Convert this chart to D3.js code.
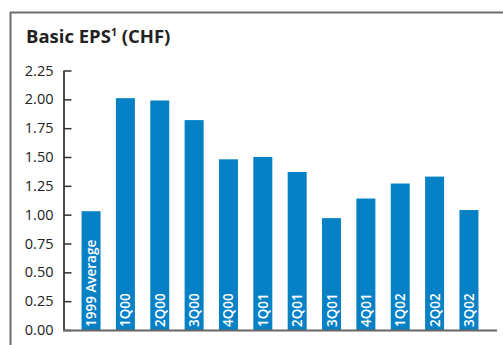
<!DOCTYPE html>
<html>
<head>
<meta charset="utf-8">
<script src="https://cdn.jsdelivr.net/npm/d3@7"></script>
<style>
  html, body { margin: 0; padding: 0; background: #fff; }
  svg { display: block; }
</style>
</head>
<body>
<svg id="chart" width="503" height="345"></svg>
<script>
// Basic earnings per share, CHF
const categories = ["1999 Average", "1Q00", "2Q00", "3Q00", "4Q00", "1Q01", "2Q01", "3Q01", "4Q01", "1Q02", "2Q02", "3Q02"];
const eps = [1.03, 2.01, 1.99, 1.82, 1.48, 1.50, 1.37, 0.97, 1.14, 1.27, 1.33, 1.04];
const yTicks = [0, 0.25, 0.5, 0.75, 1.0, 1.25, 1.5, 1.75, 2.0, 2.25];

const svg = d3.select("#chart");
const font = "'Open Sans', 'Noto Sans', sans-serif";

// panel frame: top and left rules
svg.append("line").attr("x1", 10).attr("x2", 503).attr("y1", 12.5).attr("y2", 12.5)
  .attr("stroke", "#6e6e6e").attr("stroke-width", 2);
svg.append("line").attr("x1", 10.5).attr("x2", 10.5).attr("y1", 12).attr("y2", 345)
  .attr("stroke", "#6e6e6e").attr("stroke-width", 2);

// title
const title = svg.append("text").attr("x", 26).attr("y", 43)
  .attr("font-family", font).attr("font-weight", 700).attr("font-size", 18.5)
  .attr("fill", "#222");
title.append("tspan").text("Basic EPS");
title.append("tspan").text("1").attr("font-size", 10.5).attr("dy", -7.5);
title.append("tspan").text(" (CHF)").attr("dy", 7.5);

const x = d3.scaleBand().domain(categories).range([63, 497])
  .paddingInner(0.447).paddingOuter(0.54);
const y = d3.scaleLinear().domain([0, 2.25]).range([330, 70.5]);

// bars
svg.append("g").selectAll("rect").data(eps).join("rect")
  .attr("x", (d, i) => x(categories[i]))
  .attr("width", x.bandwidth())
  .attr("y", d => y(d))
  .attr("height", d => y(0) - y(d))
  .attr("fill", "#0681c6");

// category labels inside bars, rotated
svg.append("g").selectAll("text").data(categories).join("text")
  .attr("transform", d => `translate(${x(d) + x.bandwidth() / 2 + 5},${y(0) - 3}) rotate(-90)`)
  .attr("font-family", font).attr("font-size", 13.5).attr("font-weight", 600)
  .attr("fill", "#fff")
  .text(d => d);

// y axis with inward ticks
const yAxis = d3.axisLeft(y).tickValues(yTicks).tickFormat(d3.format(".2f"))
  .tickSizeInner(-8).tickSizeOuter(0).tickPadding(10);
const gy = svg.append("g").attr("transform", "translate(63.5,0)").call(yAxis);
gy.select(".domain").attr("stroke", "#111").attr("stroke-width", 1.5);
gy.selectAll(".tick line").attr("stroke", "#333").attr("stroke-width", 1.5);
gy.selectAll(".tick text").attr("font-family", font).attr("font-size", 14.5)
  .attr("fill", "#222");

// baseline
svg.append("line").attr("x1", 63).attr("x2", 497).attr("y1", y(0) + 0.5).attr("y2", y(0) + 0.5)
  .attr("stroke", "#666").attr("stroke-width", 2);
</script>
</body>
</html>
